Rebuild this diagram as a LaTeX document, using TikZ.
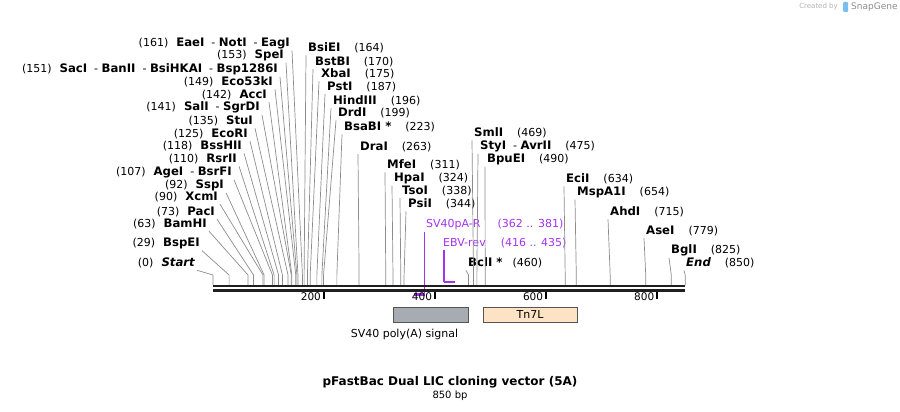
\documentclass[tikz,border=0pt]{standalone}
\usepackage{fontspec}
\setmainfont{DejaVu Sans}
\usepackage{xcolor}
\usetikzlibrary{positioning}

\definecolor{leadgray}{RGB}{140,140,140}
\definecolor{primerpurple}{RGB}{163,51,240}
\definecolor{polyagray}{RGB}{166,172,178}
\definecolor{tnpeach}{RGB}{253,226,196}
\definecolor{featedge}{RGB}{85,85,85}
\definecolor{snapblue}{RGB}{120,190,240}

\newcommand{\enz}[1]{{\fontsize{11.7}{13}\selectfont\bfseries #1}}

\begin{document}
\begin{tikzpicture}[
    x=1pt, y=-1pt,
    every node/.style={font=\fontsize{11}{13}\selectfont, inner sep=2pt},
    enzl/.style={anchor=east},
    enzr/.style={anchor=west},
    lead/.style={draw=leadgray, line width=0.7pt},
    backbone/.style={line width=2.5pt, draw=black!88},
    tickmark/.style={line width=2pt, draw=black},
    ticklbl/.style={anchor=east, font=\fontsize{10.5}{12}\selectfont},
    primer/.style={anchor=west, text=primerpurple},
    primerline/.style={draw=primerpurple, line width=1.2pt},
    primerbar/.style={draw=primerpurple, line width=2.4pt},
    featbox/.style={draw=featedge, line width=0.8pt, minimum height=15pt, inner sep=0pt},
  ]

  \useasboundingbox (0,0) rectangle (900,412);

  % ---- Cut sites on the backbone (bp scale) ----
  \begin{scope}[shift={(213,0)}, x=0.5555pt]
    \coordinate (c0) at (0,285);
    \coordinate (c29) at (29,285);
    \coordinate (c63) at (63,285);
    \coordinate (c73) at (73,285);
    \coordinate (c90) at (90,285);
    \coordinate (c92) at (92,285);
    \coordinate (c107) at (107,285);
    \coordinate (c110) at (110,285);
    \coordinate (c118) at (118,285);
    \coordinate (c125) at (125,285);
    \coordinate (c135) at (135,285);
    \coordinate (c141) at (141,285);
    \coordinate (c142) at (142,285);
    \coordinate (c149) at (149,285);
    \coordinate (c151) at (151,285);
    \coordinate (c153) at (153,285);
    \coordinate (c161) at (161,285);
    \coordinate (c164) at (164,285);
    \coordinate (c170) at (170,285);
    \coordinate (c175) at (175,285);
    \coordinate (c187) at (187,285);
    \coordinate (c196) at (196,285);
    \coordinate (c199) at (199,285);
    \coordinate (c223) at (223,285);
    \coordinate (c263) at (263,285);
    \coordinate (c311) at (311,285);
    \coordinate (c324) at (324,285);
    \coordinate (c338) at (338,285);
    \coordinate (c344) at (344,285);
    \coordinate (c460) at (460,285);
    \coordinate (c469) at (469,285);
    \coordinate (c475) at (475,285);
    \coordinate (c490) at (490,285);
    \coordinate (c634) at (634,285);
    \coordinate (c654) at (654,285);
    \coordinate (c715) at (715,285);
    \coordinate (c779) at (779,285);
    \coordinate (c825) at (825,285);
    \coordinate (c850) at (850,285);

    % primers
    \coordinate (p362) at (362,294.5);
    \coordinate (p381) at (381,294.5);
    \coordinate (p381b) at (381,296);
    \coordinate (p416) at (416,282);
    \coordinate (p435) at (435,282);

    % scale ticks
    \coordinate (k200) at (200,292);
    \coordinate (k400) at (400,292);
    \coordinate (k600) at (600,292);
    \coordinate (k800) at (800,292);
    \coordinate (b0) at (0,286.2);
    \coordinate (b850) at (850,286.2);
  \end{scope}

  % ---- Labels, left fan ----
  \node[enzl] (eaei) at (292,43) {(161)\hspace{8pt}\enz{EaeI}\hspace{7pt}- \enz{NotI}\hspace{7pt}- \enz{EagI}};
  \node[enzl] (spei) at (286,55) {(153)\hspace{8pt}\enz{SpeI}};
  \node[enzl] (saci) at (280,69) {(151)\hspace{8pt}\enz{SacI}\hspace{7pt}- \enz{BanII}\hspace{7pt}- \enz{BsiHKAI}\hspace{7pt}- \enz{Bsp1286I}};
  \node[enzl] (eco53ki) at (275,82) {(149)\hspace{8pt}\enz{Eco53kI}};
  \node[enzl] (acci) at (269,95) {(142)\hspace{8pt}\enz{AccI}};
  \node[enzl] (sali) at (262,107) {(141)\hspace{8pt}\enz{SalI}\hspace{7pt}- \enz{SgrDI}};
  \node[enzl] (stui) at (255,121) {(135)\hspace{8pt}\enz{StuI}};
  \node[enzl] (ecori) at (250,134) {(125)\hspace{8pt}\enz{EcoRI}};
  \node[enzl] (bsshii) at (244,146) {(118)\hspace{8pt}\enz{BssHII}};
  \node[enzl] (rsrii) at (239,159) {(110)\hspace{8pt}\enz{RsrII}};
  \node[enzl] (agei) at (234,172) {(107)\hspace{8pt}\enz{AgeI}\hspace{7pt}- \enz{BsrFI}};
  \node[enzl] (sspi) at (226,185) {(92)\hspace{8pt}\enz{SspI}};
  \node[enzl] (xcmi) at (220,197) {(90)\hspace{8pt}\enz{XcmI}};
  \node[enzl] (paci) at (217,212) {(73)\hspace{8pt}\enz{PacI}};
  \node[enzl] (bamhi) at (209,224) {(63)\hspace{8pt}\enz{BamHI}};
  \node[enzl] (bspei) at (202,243) {(29)\hspace{8pt}\enz{BspEI}};
  \node[enzl] (start) at (197,263) {(0)\hspace{8pt}\enz{\itshape Start}};

  % ---- Labels, right side ----
  \node[enzr] (bsiei) at (306,48) {\enz{BsiEI}\hspace{14pt}(164)};
  \node[enzr] (bstbi) at (313,62) {\enz{BstBI}\hspace{14pt}(170)};
  \node[enzr] (xbai) at (319,74) {\enz{XbaI}\hspace{14pt}(175)};
  \node[enzr] (psti) at (325,87) {\enz{PstI}\hspace{14pt}(187)};
  \node[enzr] (hindiii) at (331,101) {\enz{HindIII}\hspace{14pt}(196)};
  \node[enzr] (drdi) at (336,113) {\enz{DrdI}\hspace{14pt}(199)};
  \node[enzr] (bsabi) at (342,127) {\enz{BsaBI *}\hspace{14pt}(223)};
  \node[enzr] (drai) at (358,147) {\enz{DraI}\hspace{14pt}(263)};
  \node[enzr] (mfei) at (385,165) {\enz{MfeI}\hspace{14pt}(311)};
  \node[enzr] (hpai) at (392,178) {\enz{HpaI}\hspace{14pt}(324)};
  \node[enzr] (tsoi) at (400,191) {\enz{TsoI}\hspace{14pt}(338)};
  \node[enzr] (psii) at (406,204) {\enz{PsiI}\hspace{14pt}(344)};
  \node[enzr] (smli) at (472,133) {\enz{SmlI}\hspace{14pt}(469)};
  \node[enzr] (styi) at (478,146) {\enz{StyI}\hspace{7pt}- \enz{AvrII}\hspace{14pt}(475)};
  \node[enzr] (bpuei) at (485,159) {\enz{BpuEI}\hspace{14pt}(490)};
  \node[enzr] (bcli) at (466,263) {\enz{BclI *}\hspace{10pt}(460)};
  \node[enzr] (ecii) at (564,179) {\enz{EciI}\hspace{14pt}(634)};
  \node[enzr] (mspa1i) at (575,192) {\enz{MspA1I}\hspace{14pt}(654)};
  \node[enzr] (ahdi) at (608,212) {\enz{AhdI}\hspace{14pt}(715)};
  \node[enzr] (asei) at (644,231) {\enz{AseI}\hspace{14pt}(779)};
  \node[enzr] (bgli) at (669,250) {\enz{BglI}\hspace{14pt}(825)};
  \node[enzr] (finish) at (684,263) {\enz{\itshape End}\hspace{14pt}(850)};

  % ---- Primers ----
  \node[primer] (sv40par) at (424,224) {SV40pA-R\hspace{17pt}(362 .. 381)};
  \node[primer] (ebvrev) at (441,243) {EBV-rev\hspace{15pt}(416 .. 435)};
  \draw[primerline] (p381b |- sv40par.south) -- (p381b);
  \draw[primerbar] (p362) -- (p381);
  \draw[primerline] (p416 |- ebvrev.south) -- (p416);
  \draw[primerbar] (p416) -- (p435);

  % ---- Leader lines ----
  \draw[lead] (eaei.south east) -- ([yshift=10pt]c161) -- (c161);
  \draw[lead] (spei.south east) -- ([yshift=10pt]c153) -- (c153);
  \draw[lead] (saci.south east) -- ([yshift=10pt]c151) -- (c151);
  \draw[lead] (eco53ki.south east) -- ([yshift=10pt]c149) -- (c149);
  \draw[lead] (acci.south east) -- ([yshift=10pt]c142) -- (c142);
  \draw[lead] (sali.south east) -- ([yshift=10pt]c141) -- (c141);
  \draw[lead] (stui.south east) -- ([yshift=10pt]c135) -- (c135);
  \draw[lead] (ecori.south east) -- ([yshift=10pt]c125) -- (c125);
  \draw[lead] (bsshii.south east) -- ([yshift=10pt]c118) -- (c118);
  \draw[lead] (rsrii.south east) -- ([yshift=10pt]c110) -- (c110);
  \draw[lead] (agei.south east) -- ([yshift=10pt]c107) -- (c107);
  \draw[lead] (sspi.south east) -- ([yshift=10pt]c92) -- (c92);
  \draw[lead] (xcmi.south east) -- ([yshift=10pt]c90) -- (c90);
  \draw[lead] (paci.south east) -- ([yshift=10pt]c73) -- (c73);
  \draw[lead] (bamhi.south east) -- ([yshift=10pt]c63) -- (c63);
  \draw[lead] (bspei.south east) -- ([yshift=10pt]c29) -- (c29);
  \draw[lead] (start.south east) -- ([yshift=10pt]c0) -- (c0);

  \draw[lead] (bsiei.south west) -- ([yshift=10pt]c164) -- (c164);
  \draw[lead] (bstbi.south west) -- ([yshift=10pt]c170) -- (c170);
  \draw[lead] (xbai.south west) -- ([yshift=10pt]c175) -- (c175);
  \draw[lead] (psti.south west) -- ([yshift=10pt]c187) -- (c187);
  \draw[lead] (hindiii.south west) -- ([yshift=10pt]c196) -- (c196);
  \draw[lead] (drdi.south west) -- ([yshift=10pt]c199) -- (c199);
  \draw[lead] (bsabi.south west) -- ([yshift=10pt]c223) -- (c223);
  \draw[lead] (drai.south west) -- ([yshift=10pt]c263) -- (c263);
  \draw[lead] (mfei.south west) -- ([yshift=10pt]c311) -- (c311);
  \draw[lead] (hpai.south west) -- ([yshift=10pt]c324) -- (c324);
  \draw[lead] (tsoi.south west) -- ([yshift=10pt]c338) -- (c338);
  \draw[lead] (psii.south west) -- ([yshift=10pt]c344) -- (c344);
  \draw[lead] (smli.south west) -- ([yshift=10pt]c469) -- (c469);
  \draw[lead] (styi.south west) -- ([yshift=10pt]c475) -- (c475);
  \draw[lead] (bpuei.south west) -- ([yshift=10pt]c490) -- (c490);
  \draw[lead] (bcli.south west) -- ([yshift=10pt]c460) -- (c460);
  \draw[lead] (ecii.south west) -- ([yshift=10pt]c634) -- (c634);
  \draw[lead] (mspa1i.south west) -- ([yshift=10pt]c654) -- (c654);
  \draw[lead] (ahdi.south west) -- ([yshift=10pt]c715) -- (c715);
  \draw[lead] (asei.south west) -- ([yshift=10pt]c779) -- (c779);
  \draw[lead] (bgli.south west) -- ([yshift=10pt]c825) -- (c825);
  \draw[lead] (finish.south west) -- ([yshift=10pt]c850) -- (c850);

  % ---- Backbone and scale ----
  \draw[backbone] (b0) -- (b850);
  \draw[backbone] ([yshift=-4.3pt]b0) -- ([yshift=-4.3pt]b850);
  \draw[tickmark] (k200) -- ([yshift=-7pt]k200);
  \draw[tickmark] (k400) -- ([yshift=-7pt]k400);
  \draw[tickmark] (k600) -- ([yshift=-7pt]k600);
  \draw[tickmark] (k800) -- ([yshift=-7pt]k800);
  \node[ticklbl] (t200) at ([shift={(-1pt,-5pt)}]k200) {200};
  \node[ticklbl] (t400) at ([shift={(-1pt,-5pt)}]k400) {400};
  \node[ticklbl] (t600) at ([shift={(-1pt,-5pt)}]k600) {600};
  \node[ticklbl] (t800) at ([shift={(-1pt,-5pt)}]k800) {800};

  % ---- Features ----
  \node[featbox, fill=polyagray, minimum width=75pt] (polya) at (430.5,314.5) {};
  \node (polyalbl) at (404.5,334) {SV40 poly(A) signal};
  \node[featbox, fill=tnpeach, minimum width=94pt] (tn7l) at (530,314.5) {Tn7L};

  % ---- Title ----
  \node[font=\fontsize{12}{14}\selectfont\bfseries] (title) at (450,382) {pFastBac Dual LIC cloning vector (5A)};
  \node[font=\fontsize{10}{12}\selectfont] (size) at (450,396) {850 bp};

  % ---- Watermark ----
  \node[font=\fontsize{7}{8}\selectfont, text=black!30, anchor=east] (createdby) at (840,7) {Created by};
  \fill[snapblue, rounded corners=1pt] (843,2) rectangle (848,12);
  \node[font=\fontsize{9}{10}\selectfont, text=black!45, anchor=west] (snapgene) at (849,7) {SnapGene};

\end{tikzpicture}
\end{document}
